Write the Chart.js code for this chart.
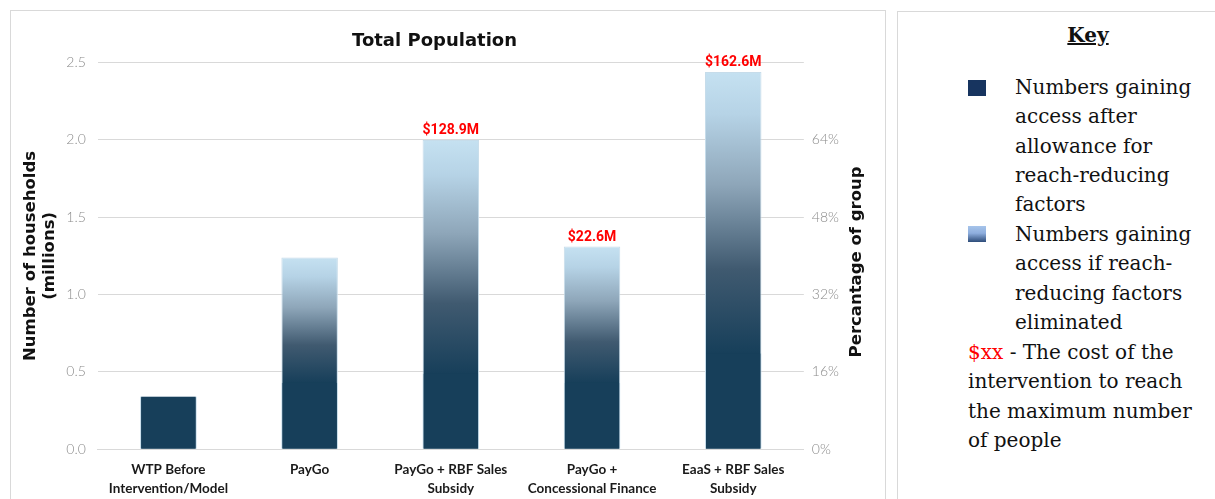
<!DOCTYPE html>
<html>
<head>
  <meta charset="utf-8">
  <title>Total Population</title>
  <script src="https://cdn.jsdelivr.net/npm/chart.js"></script>
  <style>
    html, body { margin: 0; padding: 0; background: #fff; }
    body { width: 1215px; height: 499px; position: relative; overflow: hidden; }
    #chartBox {
      position: absolute; left: 10px; top: 10px; width: 876px; height: 500px;
      border: 1px solid #d9d9d9; box-sizing: border-box;
    }
    #chartBox canvas { position: absolute; left: 0; top: 0; }
    #key {
      position: absolute; left: 897px; top: 11px; width: 340px; height: 500px;
      border: 1px solid #d9d9d9; box-sizing: border-box;
      font-family: "DejaVu Serif", Georgia, serif; color: #111;
    }
    #key h3 {
      margin: 0; position: absolute; left: 0; width: 380px; top: 11px; text-align: center;
      font-size: 20px; font-weight: bold; text-decoration: underline;
    }
    .item { position: absolute; left: 117px; font-size: 20px; line-height: 29.3px; white-space: nowrap; }
    .sw { position: absolute; left: 70px; width: 18px; height: 16px; }
    #note { position: absolute; left: 70px; top: 326px; font-size: 20px; line-height: 29.3px; white-space: nowrap; }
  </style>
</head>
<body>
<div id="chartBox"><canvas id="popChart" width="874" height="498"></canvas></div>
<div id="key">
  <h3>Key</h3>
  <div class="sw" style="top:68px;background:#17345f;"></div>
  <div class="item" style="top:61px;">Numbers gaining<br>access after<br>allowance for<br>reach-reducing<br>factors</div>
  <div class="sw" style="top:214px;background:linear-gradient(#a6c4ea,#8eaede 45%,#2d4c79);"></div>
  <div class="item" style="top:208px;">Numbers gaining<br>access if reach-<br>reducing factors<br>eliminated</div>
  <div id="note"><span style="color:#ff0000;">$xx</span> - The cost of the<br>intervention to reach<br>the maximum number<br>of people</div>
</div>

<script>
const categories = [
  ["WTP Before", "Intervention/Model"],
  ["PayGo"],
  ["PayGo + RBF Sales", "Subsidy"],
  ["PayGo +", "Concessional Finance"],
  ["EaaS + RBF Sales", "Subsidy"]
];
// households reached after reach-reducing factors (millions)
const reached = [0.34, 0.43, 0.49, 0.43, 0.62];
// households reached if those factors are removed (millions)
const potential = [0.34, 1.24, 2.00, 1.31, 2.44];
const costLabels = ["", "", "$128.9M", "$22.6M", "$162.6M"];
const pctTicks = [0, 16, 32, 48, 64];

const DARK = "#173f5a";
const LIGHT = "#c5e1f1";
const TICK_FONT = "'Lato', 'DejaVu Sans', sans-serif";
const LABEL_FONT = "'DejaVu Sans', sans-serif";

// the tall bar fades from dark (reached level) to light (potential level)
function barGradient(ctx) {
  const chart = ctx.chart;
  if (!chart.chartArea) return DARK;
  const i = ctx.dataIndex;
  const y = chart.scales.y;
  const y0 = y.getPixelForValue(reached[i]);
  const y1 = y.getPixelForValue(potential[i]);
  if (Math.abs(y0 - y1) < 1) return DARK;
  const g = chart.ctx.createLinearGradient(0, y0, 0, y1);
  g.addColorStop(0, DARK);
  g.addColorStop(0.3, "#405a70");
  g.addColorStop(0.6, "#8ea6b9");
  g.addColorStop(0.85, "#b6d3e6");
  g.addColorStop(1, LIGHT);
  return g;
}

// red cost figures above the bars
const costPlugin = {
  id: "costLabels",
  afterDatasetsDraw(chart) {
    const ctx = chart.ctx;
    const meta = chart.getDatasetMeta(0);
    ctx.save();
    ctx.fillStyle = "#ff0000";
    ctx.font = "bold 14px 'Liberation Sans Narrow', 'Roboto', sans-serif";
    ctx.textAlign = "center";
    ctx.textBaseline = "bottom";
    costLabels.forEach((txt, i) => {
      if (!txt) return;
      ctx.fillText(txt, meta.data[i].x, chart.scales.y.getPixelForValue(potential[i]) - 2);
    });
    ctx.restore();
  }
};

// right axis title, reading bottom to top like the left one
const rightTitle = {
  id: "rightTitle",
  afterDraw(chart) {
    const ctx = chart.ctx;
    const { top, bottom } = chart.chartArea;
    ctx.save();
    ctx.translate(846, (top + bottom) / 2 + 6);
    ctx.rotate(-Math.PI / 2);
    ctx.fillStyle = "#111";
    ctx.font = "bold 16.5px " + LABEL_FONT;
    ctx.textAlign = "center";
    ctx.textBaseline = "middle";
    ctx.fillText("Percantage of group", 0, 0);
    ctx.restore();
  }
};

new Chart(document.getElementById("popChart"), {
  type: "bar",
  data: {
    labels: categories,
    datasets: [
      {
        label: "Numbers gaining access if reach-reducing factors eliminated",
        data: potential,
        backgroundColor: barGradient,
        borderColor: "#c6dcea",
        borderWidth: { left: 1, right: 1, top: 1, bottom: 0 },
        borderSkipped: false,
        order: 2
      },
      {
        label: "Numbers gaining access after allowance for reach-reducing factors",
        data: reached,
        backgroundColor: DARK,
        borderColor: "#c6dcea",
        borderWidth: { left: 1, right: 1, top: 0, bottom: 0 },
        borderSkipped: false,
        order: 1
      }
    ]
  },
  options: {
    responsive: false,
    animation: false,
    categoryPercentage: 1,
    barPercentage: 0.4,
    layout: { padding: { left: 11, right: 38, top: 4, bottom: 8 } },
    plugins: {
      legend: { display: false },
      tooltip: { enabled: false },
      title: {
        display: true,
        text: "Total Population",
        color: "#111",
        font: { family: LABEL_FONT, size: 18, weight: "bold" },
        padding: { top: 16, bottom: 10 }
      }
    },
    scales: {
      x: {
        stacked: true,
        grid: { display: false },
        border: { color: "#d9d9d9" },
        ticks: {
          color: "#1a1a1a",
          maxRotation: 0,
          autoSkip: false,
          padding: 3,
          font: { family: TICK_FONT, size: 13.5, weight: "bold", lineHeight: 1.4 }
        }
      },
      y: {
        stacked: false,
        min: 0, max: 2.5,
        ticks: {
          stepSize: 0.5,
          color: "#8c8c8c",
          padding: 12,
          font: { family: TICK_FONT, size: 14, weight: "300" },
          callback: v => v.toFixed(1)
        },
        grid: { color: "#d9d9d9", drawTicks: false },
        border: { display: false },
        title: {
          display: true,
          text: ["Number of households", "(millions)"],
          color: "#111",
          font: { family: LABEL_FONT, size: 16.5, weight: "bold", lineHeight: 1.1 },
          padding: { top: 0, bottom: -4 }
        }
      },
      y1: {
        position: "right",
        min: 0, max: 80,
        afterBuildTicks: axis => { axis.ticks = pctTicks.map(v => ({ value: v })); },
        ticks: {
          color: "#8c8c8c",
          padding: 8,
          font: { family: TICK_FONT, size: 14, weight: "300" },
          callback: v => v + "%"
        },
        grid: { display: false, drawTicks: false },
        border: { display: false }
      }
    }
  },
  plugins: [costPlugin, rightTitle]
});
</script>
</body>
</html>
